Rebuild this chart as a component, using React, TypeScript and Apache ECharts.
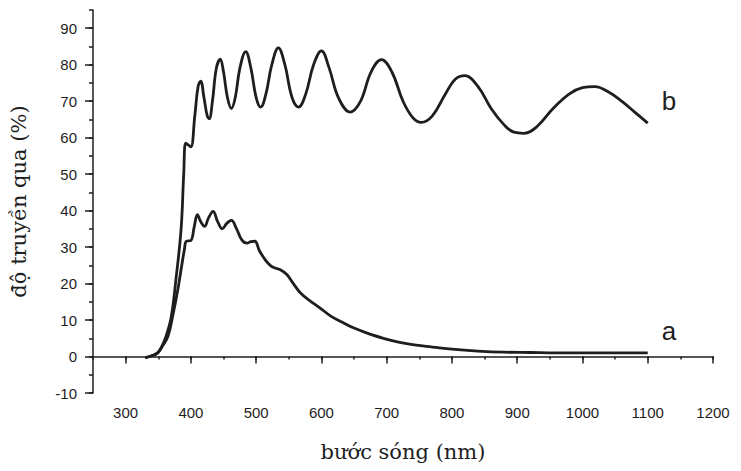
import React, { useEffect, useRef } from "react";
import * as echarts from "echarts";

const curveB: [number, number][] = [
  [330, -0.3], [340, 0.2], [349, 1], [356, 3], [362, 5.6], [370, 11], [377, 21], [385, 35],
  [389, 50], [392, 58.5], [396, 58], [400, 57.5], [406, 66], [411, 74], [415, 75.5], [420, 71],
  [425, 66], [428, 65.2], [433, 70], [439, 79], [445, 81.5], [450, 78], [456, 71], [462, 68],
  [468, 71], [475, 79], [484, 83.6], [492, 79], [500, 71], [507, 68.4], [515, 72], [524, 80],
  [534, 84.6], [544, 80], [555, 71], [565, 68.4], [576, 72], [588, 80], [600, 83.8], [612, 79],
  [626, 71], [644, 67], [660, 70], [676, 78], [692, 81.4], [708, 78], [725, 70], [740, 65.5],
  [753, 64.2], [770, 66], [790, 72], [805, 76], [820, 77], [840, 74], [860, 68], [880, 63.5],
  [895, 61.5], [910, 61.2], [930, 63], [955, 68], [980, 72], [1000, 73.7], [1019, 74],
  [1040, 72.5], [1060, 70], [1080, 67], [1100, 64],
];

const curveA: [number, number][] = [
  [330, -0.3], [340, 0.2], [349, 1], [357, 3], [365, 5.6], [372, 11], [380, 18.4], [386, 25],
  [390, 29.3], [393, 31.6], [400, 31.8], [405, 35.5], [410, 38.9], [415, 37], [421, 35.7],
  [427, 38], [434, 39.8], [441, 37], [448, 35], [455, 36.5], [462, 37.3], [470, 35], [478, 32],
  [486, 31.1], [492, 31.5], [498, 31.6], [505, 29], [514, 26.5], [522, 24.9], [530, 24.2],
  [537, 23.8], [547, 22.5], [557, 20], [568, 17.4], [583, 15.2], [598, 13.3], [615, 11],
  [634, 9.2], [650, 7.8], [669, 6.5], [695, 5], [720, 3.9], [745, 3.1], [770, 2.6], [800, 2],
  [840, 1.5], [880, 1.2], [920, 1.1], [960, 1.0], [1000, 1.0], [1050, 1.0], [1100, 1.0],
];

const seriesNames = ["a", "b"];
const xName = "bước sóng (nm)";
const yName = "độ truyền qua (%)";

export default function App() {
  const ref = useRef<HTMLDivElement>(null);
  useEffect(() => {
    if (!ref.current) return;
    const chart = echarts.init(ref.current, null, { renderer: "svg" });
    const ink = "#1e1e1e";
    const labelFont = { color: ink, fontFamily: "Liberation Sans, Arial, sans-serif", fontSize: 15 };
    const nameFont = { color: ink, fontFamily: "DejaVu Serif, serif", fontSize: 21 };
    const lineStyle = { color: ink, width: 2.8 };
    const plain = (v: number) => String(v);
    chart.setOption({
      animation: false,
      backgroundColor: "#ffffff",
      grid: { left: 88, right: 28, top: 10, bottom: 78 },
      xAxis: [
        {
          type: "value", min: 250, max: 1200, splitNumber: 9,
          name: xName, nameLocation: "middle", nameGap: 48,
          nameTextStyle: nameFont,
          axisLine: { lineStyle: { color: ink, width: 1.5 } },
          axisTick: { length: 7, lineStyle: { color: ink, width: 1.5 } },
          axisLabel: { ...labelFont, margin: 12, showMinLabel: false, formatter: plain },
          splitLine: { show: false },
        },
        {
          type: "value", min: 250, max: 1200, interval: 50, position: "bottom",
          axisLine: { show: false },
          axisTick: { length: 3, lineStyle: { color: ink, width: 1.5 } },
          axisLabel: { show: false },
          splitLine: { show: false },
        },
      ],
      yAxis: [
        {
          type: "value", min: -10, max: 95, interval: 10,
          name: yName, nameLocation: "middle", nameGap: 64,
          nameTextStyle: nameFont,
          axisLine: { show: true, lineStyle: { color: ink, width: 1.5 } },
          axisTick: { length: 8, lineStyle: { color: ink, width: 1.5 } },
          axisLabel: { ...labelFont, margin: 16, showMaxLabel: false, formatter: plain },
          splitLine: { show: false },
        },
        {
          type: "value", min: -10, max: 95, interval: 5, position: "left",
          axisLine: { show: false },
          axisTick: { length: 4, lineStyle: { color: ink, width: 1.5 } },
          axisLabel: { show: false },
          splitLine: { show: false },
        },
      ],
      series: [
        {
          name: seriesNames[0], type: "line", data: curveA, smooth: 0.4, showSymbol: false,
          xAxisIndex: 0, yAxisIndex: 0, lineStyle,
          endLabel: { show: true, formatter: seriesNames[0], offset: [6, -22], color: ink, fontSize: 26, fontFamily: "Liberation Sans, Arial, sans-serif" },
        },
        {
          name: seriesNames[1], type: "line", data: curveB, smooth: 0.4, showSymbol: false,
          xAxisIndex: 0, yAxisIndex: 0, lineStyle,
          endLabel: { show: true, formatter: seriesNames[1], offset: [6, -22], color: ink, fontSize: 26, fontFamily: "Liberation Sans, Arial, sans-serif" },
        },
      ],
    });
    return () => chart.dispose();
  }, []);
  return <div ref={ref} style={{ width: 741, height: 471, position: "fixed", left: 0, top: 0 }} />;
}
